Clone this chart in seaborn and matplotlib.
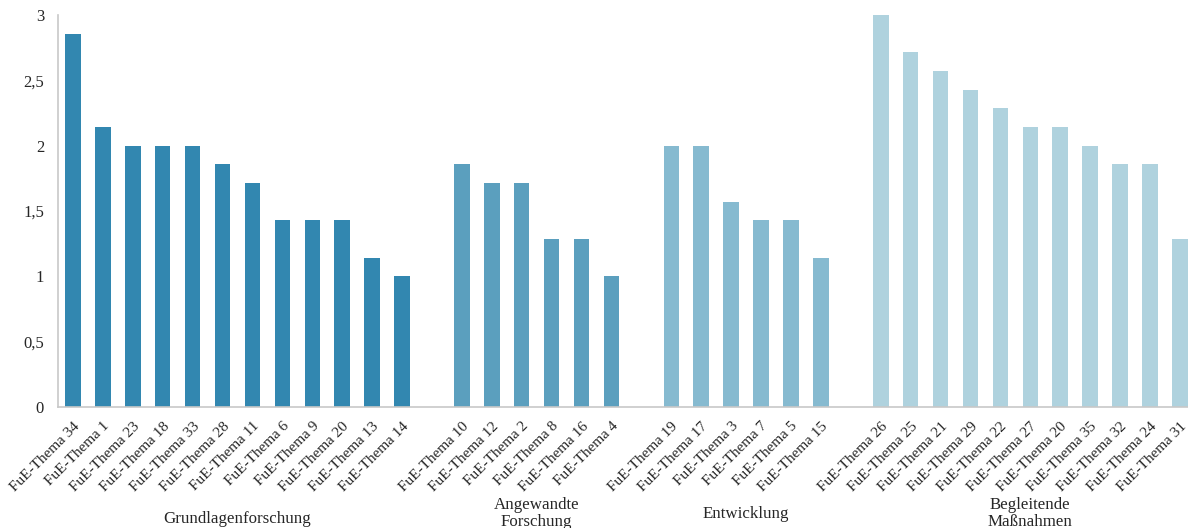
import matplotlib
matplotlib.use("Agg")
import matplotlib.pyplot as plt
import matplotlib.transforms as mtransforms
import numpy as np
import pandas as pd
import seaborn as sns

# data (values are multiples of 1/7)
gruppen = ["Grundlagenforschung", "Angewandte\nForschung", "Entwicklung", "Begleitende\nMaßnahmen"]
farben = ["#3287b0", "#5b9fbe", "#86bad0", "#afd2de"]

themen_grundlagen = [34, 1, 23, 18, 33, 28, 11, 6, 9, 20, 13, 14]
werte_grundlagen = [20/7, 15/7, 2.0, 2.0, 2.0, 13/7, 12/7, 10/7, 10/7, 10/7, 8/7, 1.0]

themen_angewandt = [10, 12, 2, 8, 16, 4]
werte_angewandt = [13/7, 12/7, 12/7, 9/7, 9/7, 1.0]

themen_entwicklung = [19, 17, 3, 7, 5, 15]
werte_entwicklung = [2.0, 2.0, 11/7, 10/7, 10/7, 8/7]

themen_begleitend = [26, 25, 21, 29, 22, 27, 20, 35, 32, 24, 31]
werte_begleitend = [3.0, 19/7, 18/7, 17/7, 16/7, 15/7, 15/7, 2.0, 13/7, 13/7, 9/7]

alle_themen = [themen_grundlagen, themen_angewandt, themen_entwicklung, themen_begleitend]
alle_werte = [werte_grundlagen, werte_angewandt, werte_entwicklung, werte_begleitend]

# build table, with an empty slot between the groups
rows = []
order = []
ticklabels = []
centers = []
for g, (name, themen, werte) in enumerate(zip(gruppen, alle_themen, alle_werte)):
    start = len(order)
    for t, w in zip(themen, werte):
        key = f"{g}-{t}"
        rows.append({"slot": key, "wert": w, "gruppe": name})
        order.append(key)
        ticklabels.append(f"FuE-Thema {t}")
    centers.append((start + len(order) - 1) / 2)
    if g < len(gruppen) - 1:
        order.append(f"gap{g}")
        ticklabels.append("")
df = pd.DataFrame(rows)

sns.set_style("white")
plt.rcParams["font.family"] = ["Liberation Serif", "DejaVu Serif"]

fig = plt.figure(figsize=(11.88, 5.28), dpi=100)
ax = fig.add_axes([0.0488, 0.229, 0.957, 0.7425])

sns.barplot(data=df, x="slot", y="wert", hue="gruppe", order=order,
            hue_order=gruppen, palette=farben, dodge=False, width=0.52,
            saturation=1, legend=False, ax=ax, edgecolor="none")

ax.set_xlim(-0.5, len(order) - 0.5)
ax.set_ylim(0, 3)
ax.set_yticks(np.arange(0, 3.01, 0.5))
ax.set_yticklabels(["0", "0,5", "1", "1,5", "2", "2,5", "3"], fontsize=12)
ax.set_xticks(range(len(order)))
ax.set_xticklabels(ticklabels, rotation=45, ha="right", rotation_mode="anchor", fontsize=11)
ax.tick_params(axis="x", length=0, pad=9)
ax.tick_params(axis="y", length=4, color="#c8c8c8", pad=6)
# minor ticks between categories
ax.set_xticks(np.arange(-0.5, len(order), 1), minor=True)
ax.tick_params(axis="x", which="minor", length=4, color="#c8c8c8")
ax.set_xlabel("")
ax.set_ylabel("")

for side in ["top", "right"]:
    ax.spines[side].set_visible(False)
for side in ["left", "bottom"]:
    ax.spines[side].set_color("#c8c8c8")
    ax.spines[side].set_linewidth(1.2)

# group captions under the tick labels (heights as in the reference)
trans = mtransforms.blended_transform_factory(ax.transData, fig.transFigure)
label_y = [0.032, 0.058, 0.041, 0.058]
for name, c, y in zip(gruppen, centers, label_y):
    ax.text(c, y, name, transform=trans, ha="center", va="top",
            fontsize=12.2, linespacing=1.02)

fig.savefig("out.png", dpi=100)
